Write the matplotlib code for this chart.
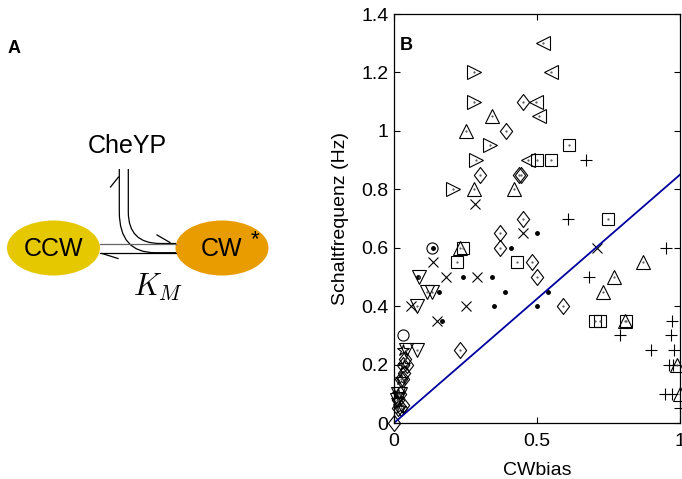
import matplotlib as mpl
mpl.use("Agg")
from matplotlib import pyplot as plt
from matplotlib.patches import Ellipse
from matplotlib.path import Path
from matplotlib.patches import PathPatch
import numpy as np

# %% data
# right-pointing triangles
tri_r_x = [0.28, 0.28, 0.336, 0.286, 0.205]
tri_r_y = [1.2, 1.1, 0.95, 0.9, 0.8]
# left-pointing triangles
tri_l_x = [0.52, 0.548, 0.497, 0.508, 0.467]
tri_l_y = [1.3, 1.2, 1.1, 1.05, 0.9]
# upward triangles
tri_u_x = [0.342, 0.25, 0.28, 0.42, 0.231, 0.872, 0.769, 0.732, 0.808, 0.99, 1.0]
tri_u_y = [1.05, 1.0, 0.8, 0.8, 0.6, 0.55, 0.5, 0.45, 0.35, 0.2, 0.1]
# downward triangles
tri_d_x = [0.088, 0.114, 0.132, 0.079, 0.042, 0.081, 0.015, 0.02, 0.01]
tri_d_y = [0.5, 0.45, 0.45, 0.4, 0.25, 0.25, 0.1, 0.1, 0.08]
# diamonds
dia_x = [0.45, 0.39, 0.301, 0.436, 0.444, 0.45, 0.371, 0.371, 0.481, 0.501, 0.59, 0.231,
         0.03, 0.04, 0.045, 0.025, 0.035, 0.03, 0.02, 0.015, 0.025, 0.03, 0.015, 0.0]
dia_y = [1.1, 1.0, 0.85, 0.85, 0.85, 0.7, 0.65, 0.6, 0.55, 0.5, 0.4, 0.25,
         0.2, 0.22, 0.2, 0.15, 0.17, 0.15, 0.1, 0.05, 0.05, 0.06, 0.08, 0.0]
# squares
sq_x = [0.611, 0.501, 0.55, 0.749, 0.242, 0.219, 0.43, 0.703, 0.72, 0.811]
sq_y = [0.95, 0.9, 0.9, 0.7, 0.6, 0.55, 0.55, 0.35, 0.35, 0.35]
# plus
plus_x = [0.671, 0.61, 0.95, 0.682, 0.973, 0.79, 0.97, 0.9, 0.98, 0.96, 0.975, 0.948, 0.971, 1.0]
plus_y = [0.9, 0.7, 0.6, 0.5, 0.35, 0.3, 0.3, 0.25, 0.25, 0.2, 0.2, 0.1, 0.1, 0.05]
# crosses
cross_x = [0.282, 0.45, 0.711, 0.137, 0.182, 0.291, 0.058, 0.252, 0.149]
cross_y = [0.75, 0.65, 0.6, 0.55, 0.5, 0.5, 0.4, 0.4, 0.35]
# filled dots
dot_x = [0.501, 0.137, 0.41, 0.085, 0.24, 0.342, 0.158, 0.388, 0.54, 0.351, 0.501, 0.167]
dot_y = [0.65, 0.6, 0.6, 0.5, 0.5, 0.5, 0.45, 0.45, 0.45, 0.4, 0.4, 0.35]
# circles
circ_x = [0.132, 0.03]
circ_y = [0.6, 0.3]
# stars
star_x = [0.03, 0.035, 0.025, 0.015, 0.01, 0.02]
star_y = [0.25, 0.2, 0.15, 0.1, 0.08, 0.05]
# fitted line
line_x = [0, 1]
line_y = [0, 0.85]

plt.rcParams['font.family'] = ['Liberation Sans', 'DejaVu Sans']
plt.rcParams['mathtext.fontset'] = 'cm'

fig = plt.figure(figsize=(6.82, 4.79), dpi=100)

# %% panel A: reaction scheme, drawn in pixel coordinates
axA = fig.add_axes([0, 0, 380 / 682, 1])
axA.set_xlim(0, 380)
axA.set_ylim(479, 0)
axA.axis('off')

axA.add_patch(Ellipse((53.5, 248), 93, 55, facecolor='#e6c800', edgecolor='none'))
axA.add_patch(Ellipse((222, 248), 93, 55, facecolor='#e89c00', edgecolor='none'))
axA.text(53.5, 249, 'CCW', fontsize=18, ha='center', va='center')
axA.text(222, 249, 'CW', fontsize=18, ha='center', va='center')
axA.text(255, 240, '*', fontsize=16, ha='center', va='center')
axA.text(127, 146, 'CheYP', fontsize=18, ha='center', va='center')
axA.text(158, 287, '$K_M$', fontsize=22, ha='center', va='center')
axA.text(14, 48.5, 'A', fontsize=13, fontweight='bold', ha='center', va='center')

lw = 0.9
axA.plot([100, 176], [243.5, 243.5], color='#666666', lw=lw)
axA.plot([100, 176], [252.7, 252.7], color='black', lw=lw)
inner = Path([(128.3, 169), (128.3, 212), (128.3, 243.5), (160, 243.5), (176, 243.5)],
             [Path.MOVETO, Path.LINETO, Path.CURVE3, Path.CURVE3, Path.LINETO])
outer = Path([(119.3, 169), (119.3, 212), (119.3, 252.7), (155, 252.7), (176, 252.7)],
             [Path.MOVETO, Path.LINETO, Path.CURVE3, Path.CURVE3, Path.LINETO])
axA.add_patch(PathPatch(inner, facecolor='none', edgecolor='black', lw=lw))
axA.add_patch(PathPatch(outer, facecolor='none', edgecolor='black', lw=lw))
# half arrow heads
axA.plot([118.5, 110.5], [177, 187], color='black', lw=lw)
axA.plot([170, 157], [242.5, 235], color='black', lw=lw)
axA.plot([102, 118], [253.5, 258.5], color='black', lw=lw)

# %% panel B: scatter
ax = fig.add_axes([394 / 682, 1 - 423 / 479, 286 / 682, 409 / 479])
diamond = Path([(0, 1), (0.77, 0), (0, -1), (-0.77, 0), (0, 1)],
               [Path.MOVETO, Path.LINETO, Path.LINETO, Path.LINETO, Path.CLOSEPOLY])
mk = dict(linestyle='none', markerfacecolor='none', markeredgecolor='black',
          markeredgewidth=0.8, clip_on=False)
ax.plot(tri_r_x, tri_r_y, marker='>', markersize=9.5, **mk)
ax.plot(tri_l_x, tri_l_y, marker='<', markersize=9.5, **mk)
ax.plot(tri_u_x, tri_u_y, marker='^', markersize=10, **mk)
ax.plot(tri_d_x, tri_d_y, marker='v', markersize=10, **mk)
ax.plot(dia_x, dia_y, marker=diamond, markersize=11.5, **mk)
ax.plot(sq_x, sq_y, marker='s', markersize=8, **mk)
ax.plot(plus_x, plus_y, marker='+', markersize=9, **mk)
ax.plot(cross_x, cross_y, marker='x', markersize=6.7, **mk)
ax.plot(circ_x, circ_y, marker='o', markersize=8, **mk)
ax.plot(star_x, star_y, marker='*', markersize=9, **mk)
ax.plot(dot_x, dot_y, marker='.', markersize=5, linestyle='none', color='black')
# tiny centre dots of the open markers
cx = tri_r_x + tri_l_x + tri_u_x + tri_d_x + dia_x + sq_x
cy = tri_r_y + tri_l_y + tri_u_y + tri_d_y + dia_y + sq_y
ax.plot(cx, cy, marker='.', markersize=1.2, linestyle='none', color='#555555')
ax.plot(line_x, line_y, color='#0000a0', lw=1.3)

ax.set_xlim(0, 1)
ax.set_ylim(0, 1.4)
ax.set_xticks([0, 0.5, 1])
ax.set_xticklabels(['0', '0.5', '1'])
ax.set_yticks(np.arange(0, 1.41, 0.2))
ax.set_yticklabels(['0', '0.2', '0.4', '0.6', '0.8', '1', '1.2', '1.4'])
ax.tick_params(direction='in', top=True, right=True, length=4, width=0.8,
               labelsize=14)
ax.tick_params(axis='x', pad=7)
ax.tick_params(axis='y', pad=4)
for s in ax.spines.values():
    s.set_linewidth(0.9)
ax.set_xlabel('CWbias', fontsize=14, labelpad=8.5)
ax.set_ylabel('Schaltfrequenz (Hz)', fontsize=14, labelpad=9)
ax.text(0.043, 0.922, 'B', transform=ax.transAxes, fontsize=13, fontweight='bold',
        ha='center', va='center')

plt.savefig('out.png', dpi=100)
